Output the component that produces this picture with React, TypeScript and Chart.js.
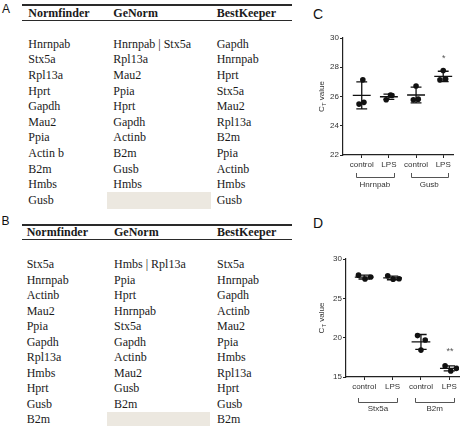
import React, { useEffect, useRef } from "react";
import { Chart, registerables } from "chart.js";

Chart.register(...registerables);

// ---------- Table data ----------
const tableHeaders = ["Normfinder", "GeNorm", "BestKeeper"];
const tableANormfinder = ["Hnrnpab", "Stx5a", "Rpl13a", "Hprt", "Gapdh", "Mau2", "Ppia", "Actin b", "B2m", "Hmbs", "Gusb"];
const tableAGeNorm = ["Hnrnpab | Stx5a", "Rpl13a", "Mau2", "Ppia", "Hprt", "Gapdh", "Actinb", "B2m", "Gusb", "Hmbs"];
const tableABestKeeper = ["Gapdh", "Hnrnpab", "Hprt", "Stx5a", "Mau2", "Rpl13a", "B2m", "Ppia", "Actinb", "Hmbs", "Gusb"];
const tableBNormfinder = ["Stx5a", "Hnrnpab", "Actinb", "Mau2", "Ppia", "Gapdh", "Rpl13a", "Hmbs", "Hprt", "Gusb", "B2m"];
const tableBGeNorm = ["Hmbs | Rpl13a", "Ppia", "Hprt", "Hnrnpab", "Stx5a", "Gapdh", "Actinb", "Mau2", "Gusb", "B2m"];
const tableBBestKeeper = ["Stx5a", "Hnrnpab", "Gapdh", "Actinb", "Mau2", "Ppia", "Hmbs", "Rpl13a", "Hprt", "Gusb", "B2m"];

// ---------- Chart data ----------
const conditionLabels = ["control", "LPS", "control", "LPS"];
const conditionPositions = [1, 2, 3, 4];

const genesC = ["Hnrnpab", "Gusb"];
const cHnrnpabControl = [27.14, 25.48, 25.6];
const cHnrnpabLPS = [26.1, 26.07, 25.78];
const cGusbControl = [26.72, 25.77, 25.82];
const cGusbLPS = [27.78, 27.14, 27.2];
const cJitter = [
  [0.04, -0.1, 0.08],
  [0.06, 0.11, -0.1],
  [0.0, -0.1, 0.08],
  [0.0, -0.12, 0.09],
];
const cYTicks = [22, 24, 26, 28, 30];
const cSignificance = "*";
const cSignificanceY = 28.72;

const genesD = ["Stx5a", "B2m"];
const dStx5aControl = [27.95, 27.45, 27.72];
const dStx5aLPS = [27.86, 27.44, 27.48];
const dB2mControl = [20.26, 19.7, 18.42];
const dB2mLPS = [16.41, 15.77, 16.1];
const dJitter = [
  [-0.2, 0.03, 0.23],
  [-0.17, 0.02, 0.23],
  [-0.12, 0.15, 0.0],
  [-0.15, 0.05, 0.25],
];
const dYTicks = [15, 20, 25, 30];
const dSignificance = "**";
const dSignificanceY = 18.5;

const sansFont = "'Liberation Sans', Arial, Helvetica, sans-serif";
const serifFont = "'Liberation Serif', 'Times New Roman', serif";

function mean(v: number[]) {
  return v.reduce((a, b) => a + b, 0) / v.length;
}
function sd(v: number[]) {
  const m = mean(v);
  return Math.sqrt(v.reduce((a, b) => a + (b - m) * (b - m), 0) / (v.length - 1));
}

interface PanelCfg {
  groups: number[][];
  jitter: number[][];
  genes: string[];
  yMin: number;
  yMax: number;
  yTicks: number[];
  xMin: number;
  xMax: number;
  yAxisWidth: number;
  padTop: number;
  padRight: number;
  bracketTop: number;
  bracketBottom: number;
  geneLabelY: number;
  sig: string;
  sigY: number;
  titleX: number;
}

function makePlugin(cfg: PanelCfg) {
  return {
    id: "prismExtras",
    afterDatasetsDraw(chart: any) {
      const { ctx, scales } = chart;
      const x = scales.x;
      const y = scales.y;
      ctx.save();
      ctx.strokeStyle = "#111";
      ctx.lineWidth = 1.3;
      cfg.groups.forEach((vals, i) => {
        const cx = conditionPositions[i];
        const m = mean(vals);
        const s = sd(vals);
        const px = x.getPixelForValue(cx);
        const hw = x.getPixelForValue(cx + 0.33) - px;
        const cw = x.getPixelForValue(cx + 0.2) - px;
        const ym = y.getPixelForValue(m);
        const yt = y.getPixelForValue(m + s);
        const yb = y.getPixelForValue(m - s);
        ctx.beginPath();
        ctx.moveTo(px - hw, ym);
        ctx.lineTo(px + hw, ym);
        ctx.moveTo(px, yt);
        ctx.lineTo(px, yb);
        ctx.moveTo(px - cw, yt);
        ctx.lineTo(px + cw, yt);
        ctx.moveTo(px - cw, yb);
        ctx.lineTo(px + cw, yb);
        ctx.stroke();
      });
      // significance marker
      ctx.fillStyle = "#555";
      ctx.font = `9px ${sansFont}`;
      ctx.textAlign = "center";
      ctx.textBaseline = "middle";
      ctx.fillText(cfg.sig, x.getPixelForValue(4.02), y.getPixelForValue(cfg.sigY) + 2);
      ctx.restore();
    },
    afterDraw(chart: any) {
      const { ctx, scales, chartArea } = chart;
      const x = scales.x;
      ctx.save();
      // group brackets
      ctx.strokeStyle = "#555";
      ctx.lineWidth = 1;
      const base = chartArea.bottom;
      cfg.genes.forEach((g, gi) => {
        const a = x.getPixelForValue(conditionPositions[gi * 2] - 0.2);
        const b = x.getPixelForValue(conditionPositions[gi * 2 + 1] + 0.17);
        ctx.beginPath();
        ctx.moveTo(Math.round(a) + 0.5, base + cfg.bracketTop);
        ctx.lineTo(Math.round(a) + 0.5, base + cfg.bracketBottom + 0.5);
        ctx.lineTo(Math.round(b) + 0.5, base + cfg.bracketBottom + 0.5);
        ctx.lineTo(Math.round(b) + 0.5, base + cfg.bracketTop);
        ctx.stroke();
        ctx.fillStyle = "#333";
        ctx.font = `8px ${sansFont}`;
        ctx.textAlign = "center";
        ctx.textBaseline = "middle";
        ctx.fillText(g, (a + b) / 2, base + cfg.geneLabelY);
      });
      // y-axis title "C_T value"
      const cy = (chartArea.top + chartArea.bottom) / 2;
      ctx.translate(cfg.titleX, cy);
      ctx.rotate(-Math.PI / 2);
      ctx.fillStyle = "#333";
      ctx.textBaseline = "alphabetic";
      ctx.textAlign = "left";
      ctx.font = `8px ${sansFont}`;
      const wC = ctx.measureText("C").width;
      const wV = ctx.measureText(" value").width;
      ctx.font = `6px ${sansFont}`;
      const wT = ctx.measureText("T").width;
      const total = wC + wT + wV;
      let sx = -total / 2;
      const by = 3;
      ctx.font = `8px ${sansFont}`;
      ctx.fillText("C", sx, by);
      sx += wC;
      ctx.font = `6px ${sansFont}`;
      ctx.fillText("T", sx, by + 2);
      sx += wT;
      ctx.font = `8px ${sansFont}`;
      ctx.fillText(" value", sx, by);
      ctx.restore();
    },
  };
}

function ScatterPanel(props: { cfg: PanelCfg; left: number; top: number; width: number; height: number }) {
  const ref = useRef<HTMLCanvasElement | null>(null);
  const { cfg } = props;
  useEffect(() => {
    if (!ref.current) return;
    const points: { x: number; y: number }[] = [];
    cfg.groups.forEach((vals, i) => {
      vals.forEach((v, j) => points.push({ x: conditionPositions[i] + cfg.jitter[i][j], y: v }));
    });
    const chart = new Chart(ref.current, {
      type: "scatter",
      data: {
        datasets: [
          {
            data: points,
            pointRadius: 2.8,
            pointBackgroundColor: "#111",
            pointBorderColor: "#111",
            pointBorderWidth: 0,
          },
        ],
      },
      options: {
        animation: false,
        responsive: false,
        maintainAspectRatio: false,
        events: [],
        layout: { padding: { top: cfg.padTop, right: cfg.padRight, left: 0, bottom: 0 } },
        plugins: { legend: { display: false }, tooltip: { enabled: false } },
        scales: {
          x: {
            type: "linear",
            min: cfg.xMin,
            max: cfg.xMax,
            afterBuildTicks: (s: any) => {
              s.ticks = conditionPositions.map((v) => ({ value: v }));
            },
            afterFit: (s: any) => {
              s.height = 50;
            },
            ticks: {
              autoSkip: false,
              maxRotation: 0,
              padding: 2,
              color: "#333",
              font: { family: sansFont, size: 8 },
              callback: (_v: any, i: number) => conditionLabels[i],
            },
            grid: { drawOnChartArea: false, drawTicks: true, tickLength: 3, color: "#222", lineWidth: 1 },
            border: { color: "#222", width: 1.2 },
          },
          y: {
            min: cfg.yMin,
            max: cfg.yMax,
            afterBuildTicks: (s: any) => {
              s.ticks = cfg.yTicks.map((v) => ({ value: v }));
            },
            afterFit: (s: any) => {
              s.width = cfg.yAxisWidth;
            },
            ticks: {
              padding: 1,
              color: "#333",
              font: { family: sansFont, size: 8 },
              callback: (v: any) => String(v),
            },
            grid: { drawOnChartArea: false, drawTicks: true, tickLength: 3, color: "#222", lineWidth: 1 },
            border: { color: "#222", width: 1.2 },
          },
        },
      },
      plugins: [makePlugin(cfg)],
    } as any);
    return () => chart.destroy();
  }, []);
  return (
    <canvas
      ref={ref}
      width={props.width}
      height={props.height}
      style={{ position: "absolute", left: props.left, top: props.top, width: props.width, height: props.height }}
    />
  );
}

function PanelLetter(props: { text: string; left: number; top: number; size: number }) {
  return (
    <div
      style={{
        position: "absolute",
        left: props.left,
        top: props.top,
        fontFamily: sansFont,
        fontSize: props.size,
        lineHeight: `${props.size}px`,
        color: "#111",
      }}
    >
      {props.text}
    </div>
  );
}

function RankTable(props: {
  cols: string[][];
  colX: number[];
  topLine: number;
  midLine: number;
  headerBase: number;
  firstBase: number;
  step: number;
  box: { left: number; top: number; width: number; height: number };
}) {
  const cell = (text: string, left: number, baseline: number, bold: boolean, key: string) => (
    <div
      key={key}
      style={{
        position: "absolute",
        left,
        top: baseline - 12,
        fontFamily: serifFont,
        fontSize: 12,
        lineHeight: "16px",
        fontWeight: bold ? 700 : 400,
        color: "#1a1a1a",
        whiteSpace: "nowrap",
      }}
    >
      {text}
    </div>
  );
  return (
    <>
      <div style={{ position: "absolute", left: 22, top: props.topLine - 1, width: 270, height: 2, background: "#2a2a2a" }} />
      <div style={{ position: "absolute", left: 22, top: props.midLine - 0.5, width: 270, height: 1.5, background: "#2a2a2a" }} />
      <div
        style={{
          position: "absolute",
          left: props.box.left,
          top: props.box.top,
          width: props.box.width,
          height: props.box.height,
          background: "#ece8e0",
        }}
      />
      {tableHeaders.map((h, i) => cell(h, props.colX[i], props.headerBase, true, "h" + i))}
      {props.cols.map((col, ci) =>
        col.map((t, ri) => cell(t, props.colX[ci], props.firstBase + ri * props.step, false, `c${ci}r${ri}`))
      )}
    </>
  );
}

const cfgC: PanelCfg = {
  groups: [cHnrnpabControl, cHnrnpabLPS, cGusbControl, cGusbLPS],
  jitter: cJitter,
  genes: genesC,
  yMin: 22,
  yMax: 30,
  yTicks: cYTicks,
  xMin: 0.31,
  xMax: 4.36,
  yAxisWidth: 43,
  padTop: 38,
  padRight: 19,
  bracketTop: 18,
  bracketBottom: 22,
  geneLabelY: 29.5,
  sig: cSignificance,
  sigY: cSignificanceY,
  titleX: 21,
};

const cfgD: PanelCfg = {
  groups: [dStx5aControl, dStx5aLPS, dB2mControl, dB2mLPS],
  jitter: dJitter,
  genes: genesD,
  yMin: 15,
  yMax: 30,
  yTicks: dYTicks,
  xMin: 0.36,
  xMax: 4.34,
  yAxisWidth: 46,
  padTop: 49,
  padRight: 13,
  bracketTop: 21,
  bracketBottom: 25,
  geneLabelY: 32,
  sig: dSignificance,
  sigY: dSignificanceY,
  titleX: 21,
};

export default function App() {
  return (
    <div
      style={{
        position: "fixed",
        left: 0,
        top: 0,
        width: 472,
        height: 427,
        background: "#fff",
        overflow: "hidden",
      }}
    >
      <PanelLetter text="A" left={2} top={2.5} size={12} />
      <PanelLetter text="B" left={1.5} top={215} size={12} />
      <PanelLetter text="C" left={313} top={6.5} size={14} />
      <PanelLetter text="D" left={313} top={216} size={14} />
      <RankTable
        cols={[tableANormfinder, tableAGeNorm, tableABestKeeper]}
        colX={[28.3, 113.3, 216.7]}
        topLine={5}
        midLine={20}
        headerBase={16.7}
        firstBase={47.7}
        step={15.6}
        box={{ left: 107, top: 192, width: 104, height: 17 }}
      />
      <RankTable
        cols={[tableBNormfinder, tableBGeNorm, tableBBestKeeper]}
        colX={[26.7, 114, 217]}
        topLine={224.5}
        midLine={239}
        headerBase={235.7}
        firstBase={268.3}
        step={15.47}
        box={{ left: 107, top: 411.5, width: 103, height: 14.5 }}
      />
      <ScatterPanel cfg={cfgC} left={300} top={0} width={172} height={205} />
      <ScatterPanel cfg={cfgD} left={300} top={210} width={172} height={217} />
    </div>
  );
}
